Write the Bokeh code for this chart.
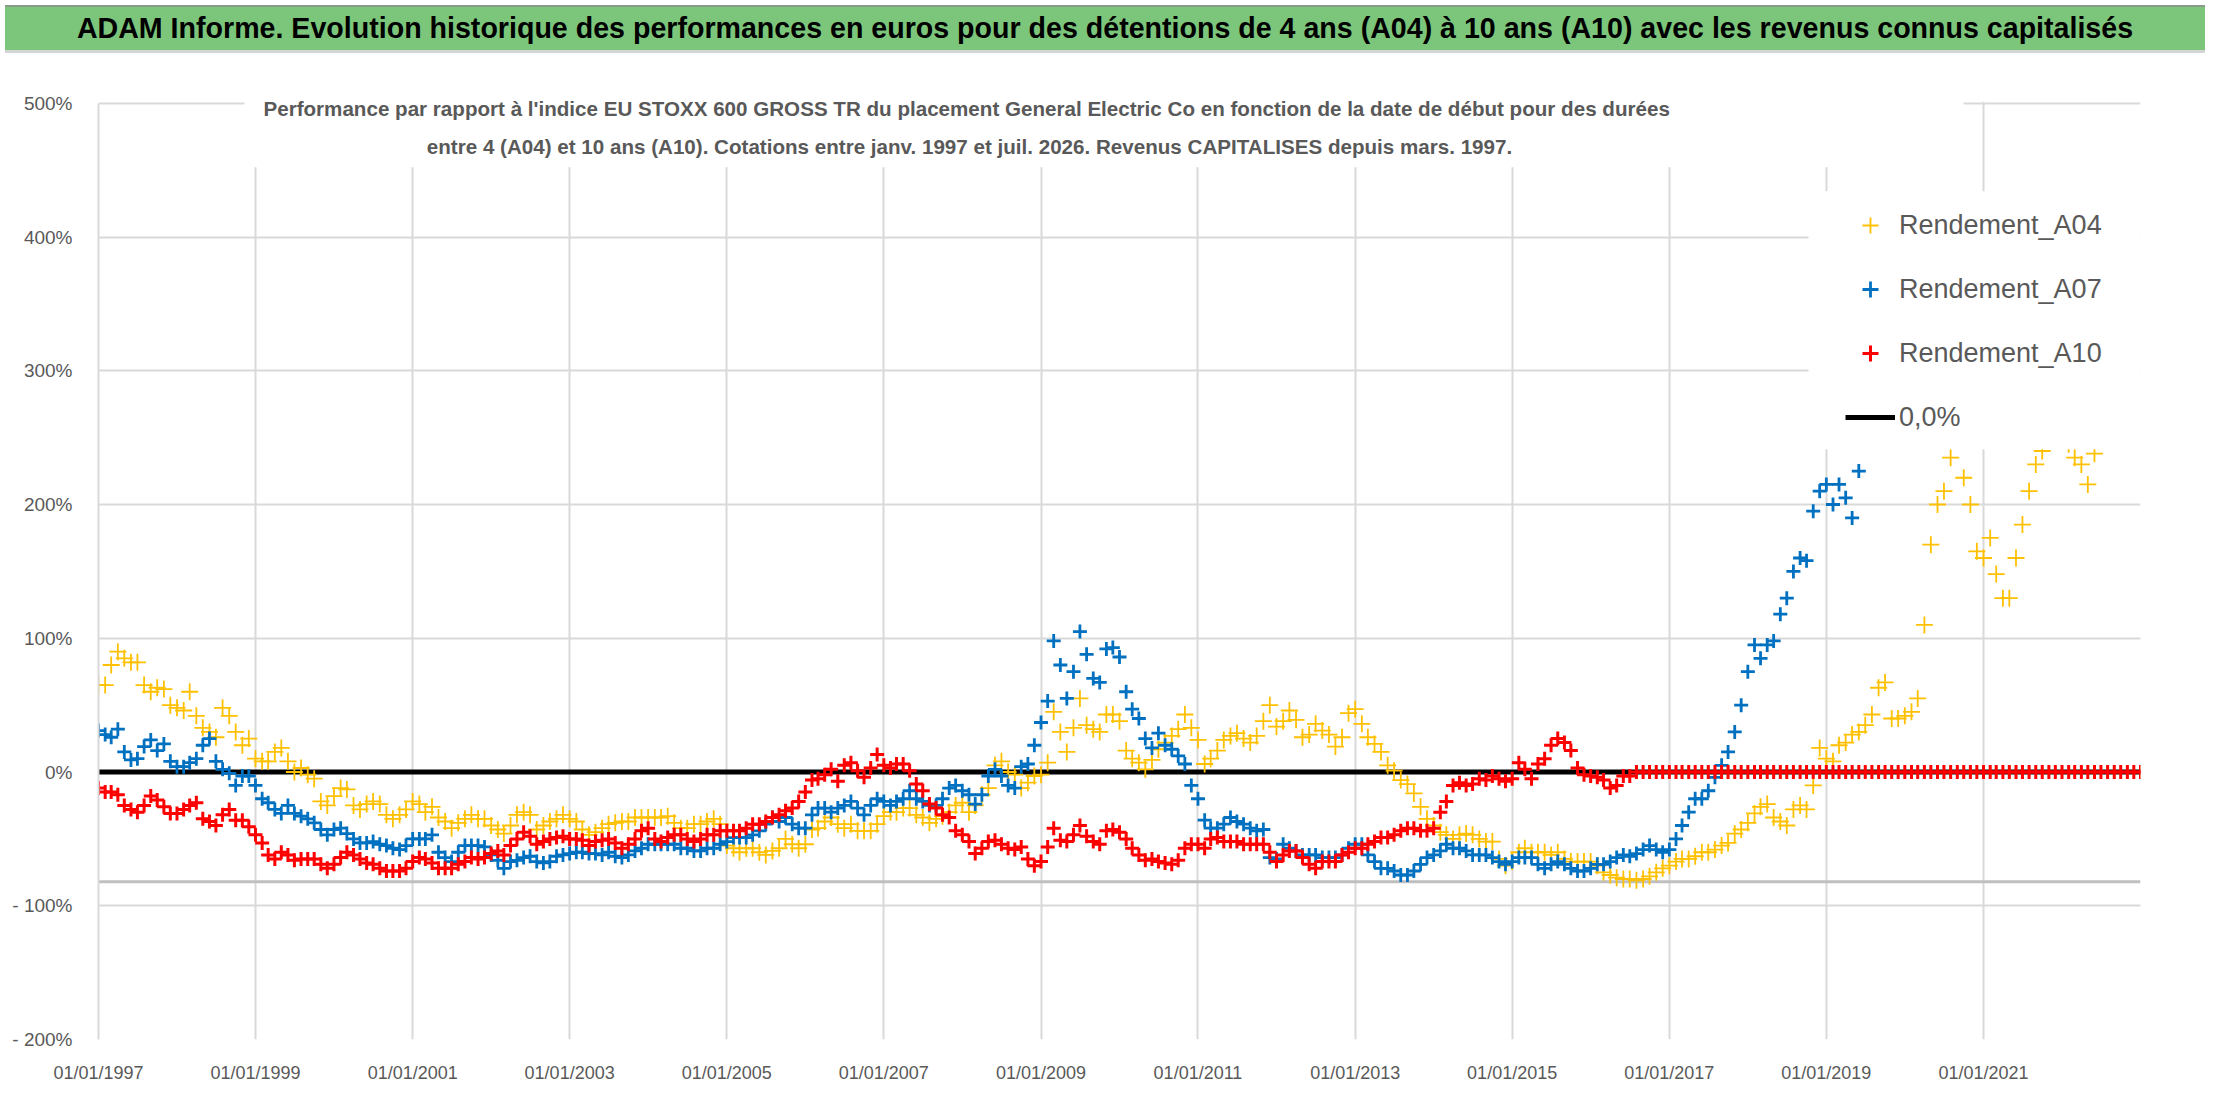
import pandas as pd
from bokeh.plotting import figure
from bokeh.models import (Range1d, FixedTicker, DatetimeTickFormatter, Legend, LegendItem,
                          Span, BoxAnnotation, Label, Div)
from bokeh.layouts import column
from bokeh.embed import file_html
from bokeh.resources import INLINE

# ---------------- texts ----------------
TITLE = ("ADAM Informe. Evolution historique des performances en euros pour des détentions "
         "de 4 ans (A04) à 10 ans (A10) avec les revenus connus capitalisés")
SUBTITLE_1 = ("Performance par rapport à l'indice EU STOXX 600 GROSS TR  du placement General Electric Co "
              "en fonction de la date de début pour des durées")
SUBTITLE_2 = ("entre 4 (A04) et 10 ans (A10). Cotations entre janv. 1997 et juil. 2026. "
              "Revenus CAPITALISES depuis mars. 1997.")
SERIES_NAMES = ["Rendement_A04", "Rendement_A07", "Rendement_A10"]
ZERO_LABEL = "0,0%"

# ---------------- data (monthly readings, %) ----------------
A04_START = "1997-01-01"
A04 = [
    65, 65, 80, 90, 85, 82, 82, 65, 60, 63, 62, 50,            # 1997
    48, 46, 60, 42, 33, 30, 26, 48, 42, 30, 20, 25,            # 1998
    10, 8, 8, 15, 18, 8, 0, 3, -2, -5, -22, -25,               # 1999
    -18, -12, -13, -25, -28, -24, -22, -24, -32, -35, -32, -28,  # 2000
    -22, -24, -30, -26, -34, -37, -42, -38, -35, -32, -35, -35,  # 2001
    -40, -43, -46, -40, -32, -30, -32, -43, -40, -37, -35, -32,  # 2002
    -35, -37, -43, -47, -45, -42, -39, -38, -37, -37, -34, -34,  # 2003
    -34, -34, -34, -33, -38, -42, -42, -39, -39, -37, -35, -39,  # 2004
    -55, -57, -60, -57, -57, -60, -62, -59, -57, -50, -54, -57,  # 2005
    -54, -43, -42, -37, -34, -39, -42, -39, -44, -44, -44, -39,  # 2006
    -33, -30, -30, -27, -27, -32, -34, -38, -35, -33, -30, -25,  # 2007
    -23, -30, -25, -17, -12, 5, 8, 0, -2, -12, -8, -3,           # 2008
    -2, 7, 45, 30, 15, 33, 55, 35, 32, 30, 43, 43,               # 2009
    38, 16, 10, 7, 2, 9, 17, 22, 27, 32, 43, 33,                 # 2010
    24, 6, 10, 16, 24, 27, 29, 25, 22, 27, 38, 50,               # 2011
    34, 38, 46, 39, 26, 28, 36, 31, 28, 19, 26, 44,              # 2012
    47, 36, 26, 21, 15, 5, 1, -6, -9, -16, -26, -35,             # 2013
    -40, -45, -47, -50, -47, -46, -47, -50, -52, -52, -65, -70,  # 2014
    -67, -60, -57, -60, -60, -60, -62, -60, -65, -67, -67, -67,  # 2015
    -67, -70, -75, -77, -79, -80, -80, -81, -80, -78, -75, -72,  # 2016
    -70, -67, -65, -65, -63, -60, -60, -58, -55, -53, -46, -43,  # 2017
    -38, -31, -26, -24, -34, -37, -40, -28, -25, -28, -10, 18,   # 2018
    10, 8, 20, 22, 28, 30, 35, 43, 63, 67, 40, 40,               # 2019
    42, 45, 55, 110, 170, 200, 210, 235, 255, 220, 200, 165,     # 2020
    160, 175, 148, 130, 130, 160, 185, 210, 230, 240, 250, 250,  # 2021
    250, 245, 235, 230, 215, 238,                                # 2022
]

A07_START = "1997-01-01"
A07 = [
    31, 28, 26, 32, 15, 9, 10, 19, 24, 16, 21, 8,                # 1997
    4, 4, 7, 10, 20, 25, 8, 2, -1, -10, -3, -3,                  # 1998
    -10, -20, -23, -28, -31, -25, -31, -33, -35, -38, -43, -47,  # 1999
    -43, -42, -46, -50, -53, -53, -52, -54, -55, -57, -58, -55,  # 2000
    -50, -50, -50, -47, -60, -64, -67, -60, -55, -55, -55, -56,  # 2001
    -62, -66, -72, -67, -66, -64, -63, -67, -68, -67, -63, -62,  # 2002
    -61, -60, -60, -61, -61, -62, -60, -63, -64, -62, -59, -57,  # 2003
    -54, -54, -54, -54, -54, -57, -57, -59, -59, -57, -57, -54,  # 2004
    -52, -49, -49, -49, -47, -44, -39, -34, -37, -34, -39, -42,  # 2005
    -42, -32, -27, -27, -30, -27, -25, -22, -27, -32, -25, -20,  # 2006
    -22, -25, -22, -20, -14, -20, -22, -25, -25, -20, -12, -10,  # 2007
    -14, -17, -24, -17, -3, 2, -3, -10, -12, 4, 6, 20,           # 2008
    37, 53, 98, 80, 55, 75, 105, 88, 70, 67, 92, 93,             # 2009
    86, 60, 47, 40, 25, 18, 29, 20, 17, 12, 6, -10,              # 2010
    -20, -36, -42, -42, -39, -34, -37, -39, -42, -44, -43, -64,  # 2011
    -65, -54, -57, -59, -62, -62, -62, -64, -64, -64, -62, -57,  # 2012
    -54, -54, -62, -67, -72, -72, -74, -77, -77, -74, -69, -64,  # 2013
    -62, -59, -54, -57, -57, -59, -62, -62, -62, -64, -67, -69,  # 2014
    -67, -64, -64, -64, -69, -72, -69, -67, -69, -72, -74, -74,  # 2015
    -72, -69, -69, -67, -64, -62, -63, -61, -58, -55, -58, -60,  # 2016
    -58, -50, -40, -30, -20, -20, -14, -4, 5, 15, 30, 50,        # 2017
    75, 95, 85, 95, 98, 118, 130, 150, 160, 158, 195, 210,       # 2018
    215, 200, 215, 205, 190, 225,                                # 2019
]

A10_START = "1997-01-01"
A10 = [
    -12, -15, -15, -17, -25, -28, -30, -25, -18, -21, -26, -31,  # 1997
    -31, -28, -25, -23, -35, -37, -40, -32, -28, -36, -36, -41,  # 1998
    -47, -53, -62, -65, -60, -62, -66, -65, -65, -65, -69, -72,  # 1999
    -69, -64, -60, -62, -65, -68, -69, -72, -74, -74, -74, -72,  # 2000
    -67, -64, -65, -68, -72, -72, -72, -69, -67, -64, -65, -64,  # 2001
    -61, -59, -62, -55, -50, -45, -48, -54, -52, -50, -49, -48,  # 2002
    -50, -50, -51, -55, -52, -51, -50, -53, -57, -54, -50, -44,  # 2003
    -42, -50, -52, -49, -47, -47, -50, -52, -50, -47, -47, -44,  # 2004
    -44, -44, -44, -42, -39, -39, -37, -34, -32, -29, -27, -22,  # 2005
    -15, -6, -5, -2, 2, -7, 5, 7, 1, -4, 3, 13,                  # 2006
    5, 3, 6, 6, 1, -9, -14, -24, -27, -32, -34, -44,             # 2007
    -47, -52, -61, -57, -52, -51, -54, -57, -58, -56, -65, -70,  # 2008
    -67, -56, -42, -51, -52, -47, -40, -48, -52, -54, -44, -43,  # 2009
    -45, -50, -57, -62, -66, -65, -67, -68, -69, -66, -57, -54,  # 2010
    -54, -57, -50, -49, -52, -52, -52, -54, -54, -54, -54, -60,  # 2011
    -67, -62, -59, -59, -64, -69, -72, -67, -67, -67, -62, -60,  # 2012
    -57, -57, -54, -52, -49, -49, -47, -44, -42, -42, -44, -44,  # 2013
    -42, -30, -22, -10, -8, -10, -9, -5, -6, -3, -5, -7,         # 2014
    -5, 7, 2, -5, 6, 10, 20, 25, 22, 16, 3, -2,                  # 2015
    -3, -4, -6, -12, -10, -3, -3,                                # 2016 (Jan-Jul)
    0, 0, 0, 0, 0,                                               # 2016 (Aug-Dec)
    0, 0, 0, 0, 0, 0, 0, 0, 0, 0, 0, 0,                          # 2017
    0, 0, 0, 0, 0, 0, 0, 0, 0, 0, 0, 0,                          # 2018
    0, 0, 0, 0, 0, 0, 0, 0, 0, 0, 0, 0,                          # 2019
    0, 0, 0, 0, 0, 0, 0, 0, 0, 0, 0, 0,                          # 2020
    0, 0, 0, 0, 0, 0, 0, 0, 0, 0, 0, 0,                          # 2021
    0, 0, 0, 0, 0, 0, 0, 0, 0, 0, 0, 0,                          # 2022
    0,                                                           # 2023
]

ZERO_LINE_DATES = ["1997-01-01", "2023-01-01"]
ZERO_LINE_VALUES = [0, 0]

X_RANGE = ["1997-01-01", "2023-01-01"]
X_TICK_DATES = ["1997-01-01", "1999-01-01", "2001-01-01", "2003-01-01", "2005-01-01",
                "2007-01-01", "2009-01-01", "2011-01-01", "2013-01-01", "2015-01-01",
                "2017-01-01", "2019-01-01", "2021-01-01"]
Y_AXIS_MIN, Y_AXIS_MAX = -200, 500
Y_TICKS = [500, 400, 300, 200, 100, 0, -100, -200]
Y_TICK_LABELS = ["500%", "400%", "300%", "200%", "100%", "0%", "- 100%", "- 200%"]
AXIS_CROSS = -82

# ---------------- style / layout ----------------
FONT = "Liberation Sans"
GREY_TEXT = "#595959"
GRID = "#D9D9D9"
COL_A04, COL_A07, COL_A10 = "#FFC000", "#0070C0", "#FF0000"

PX_PER_UNIT = 936 / 700           # pixels per 1 % on the y axis
HEADROOM = 20                     # % of extra frame above the top tick (for the subtitle)
FRAME_W = 2042
FRAME_H = round((Y_AXIS_MAX - Y_AXIS_MIN + HEADROOM) * PX_PER_UNIT)
B_LEFT, B_RIGHT, B_TOP, B_BOTTOM = 98, 60, 18, 54
TITLE_H = 48


def ms(d):
    return pd.Timestamp(d).value / 1e6


def monthly(start, vals):
    return pd.date_range(start, periods=len(vals), freq="MS")


x0, x1 = ms(X_RANGE[0]), ms(X_RANGE[1])
y_top = Y_AXIS_MAX + HEADROOM


def fx(px):   # pixel from frame left -> data x
    return x0 + px / FRAME_W * (x1 - x0)


def fy(py):   # pixel below the top-tick line -> data y
    return Y_AXIS_MAX - py / PX_PER_UNIT


p = figure(frame_width=FRAME_W, frame_height=FRAME_H, x_axis_type="datetime",
           x_range=Range1d(x0, x1), y_range=Range1d(Y_AXIS_MIN, y_top),
           output_backend="svg", toolbar_location=None,
           min_border_left=B_LEFT, min_border_right=B_RIGHT,
           min_border_top=B_TOP, min_border_bottom=B_BOTTOM,
           background_fill_color="white", border_fill_color="white")
p.outline_line_color = None

# grids
xt = FixedTicker(ticks=[ms(d) for d in X_TICK_DATES])
yt = FixedTicker(ticks=Y_TICKS)
p.xaxis.ticker = xt
p.yaxis.ticker = yt
p.xgrid.ticker = xt
p.ygrid.ticker = yt
for g in (p.xgrid, p.ygrid):
    g.grid_line_color = GRID
    g.grid_line_width = 2

# axes
fmt = "%d/%m/%Y"
p.xaxis.formatter = DatetimeTickFormatter(milliseconds=fmt, seconds=fmt, minsec=fmt, minutes=fmt,
                                          hourmin=fmt, hours=fmt, days=fmt, months=fmt, years=fmt)
p.yaxis.major_label_overrides = {t: s for t, s in zip(Y_TICKS, Y_TICK_LABELS)}
for ax in (p.xaxis, p.yaxis):
    ax.major_tick_line_color = None
    ax.minor_tick_line_color = None
    ax.major_label_text_font = FONT
    ax.major_label_text_color = GREY_TEXT
p.xaxis.major_label_text_font_size = "18px"
p.yaxis.major_label_text_font_size = "19px"
p.xaxis.axis_line_color = None
p.xaxis.major_label_standoff = 17
p.yaxis.axis_line_color = GRID
p.yaxis.axis_line_width = 2
p.yaxis.bounds = (Y_AXIS_MIN, Y_AXIS_MAX)
p.yaxis.major_label_standoff = 20

# white band above the top tick (hides the upper ends of the vertical grid lines)
p.add_layout(BoxAnnotation(left=x0, right=x1, bottom=fy(-1.5), top=y_top,
                           fill_color="white", fill_alpha=1.0, line_color=None, level="underlay"))
# subtitle box + text
p.add_layout(BoxAnnotation(left=fx(146), right=fx(1865), top=y_top, bottom=fy(64),
                           fill_color="white", fill_alpha=1.0, line_color=None, level="underlay"))
for txt, py in ((SUBTITLE_1, 5), (SUBTITLE_2, 43)):
    p.add_layout(Label(x=fx(871), y=fy(py), text=txt, text_align="center", text_baseline="middle",
                       text_font=FONT, text_font_style="bold", text_font_size="20.6px",
                       text_color=GREY_TEXT))

# horizontal axis line (crossing value)
p.add_layout(Span(location=AXIS_CROSS, dimension="width", line_color="#BFBFBF",
                  line_width=3, level="underlay"))

# zero line
r0 = p.line(pd.to_datetime(ZERO_LINE_DATES), ZERO_LINE_VALUES, line_color="black", line_width=5)

# scatter series
r4 = p.scatter(monthly(A04_START, A04), A04, marker="cross", size=17, line_width=1.8,
               line_color=COL_A04)
r7 = p.scatter(monthly(A07_START, A07), A07, marker="cross", size=14, line_width=2.8,
               line_color=COL_A07)
r10 = p.scatter(monthly(A10_START, A10), A10, marker="cross", size=14, line_width=3,
                line_color=COL_A10)

# opaque legend area (the legend box hides the marks lying underneath it)
p.add_layout(BoxAnnotation(left=fx(1710), right=x1, top=fy(88), bottom=fy(346),
                           fill_color="white", fill_alpha=1.0, line_color=None))

legend = Legend(items=[LegendItem(label=SERIES_NAMES[0], renderers=[r4]),
                       LegendItem(label=SERIES_NAMES[1], renderers=[r7]),
                       LegendItem(label=SERIES_NAMES[2], renderers=[r10]),
                       LegendItem(label=ZERO_LABEL, renderers=[r0])],
                location=(1747, 602))
legend.background_fill_color = "white"
legend.background_fill_alpha = 1.0
legend.border_line_color = None
legend.label_text_font = FONT
legend.label_text_font_size = "27px"
legend.label_text_color = GREY_TEXT
legend.glyph_width = 50
legend.glyph_height = 40
legend.label_height = 40
legend.label_width = 200
legend.label_standoff = 4
legend.spacing = 24
legend.padding = 13
legend.margin = 0
p.add_layout(legend)

title = Div(text=TITLE, width=FRAME_W + B_LEFT + B_RIGHT, height=TITLE_H,
            styles={"background-color": "#7CC67C", "color": "black",
                    "font-family": FONT, "font-weight": "bold", "font-size": "28.6px",
                    "text-align": "center", "line-height": f"{TITLE_H - 5}px",
                    "border-top": "2px solid #8a9a8a", "border-bottom": "3px solid #d4d4d4",
                    "box-sizing": "border-box", "white-space": "nowrap", "overflow": "hidden"})

layout = column(title, p, spacing=0)
open("out.html", "w").write(file_html(layout, INLINE))
